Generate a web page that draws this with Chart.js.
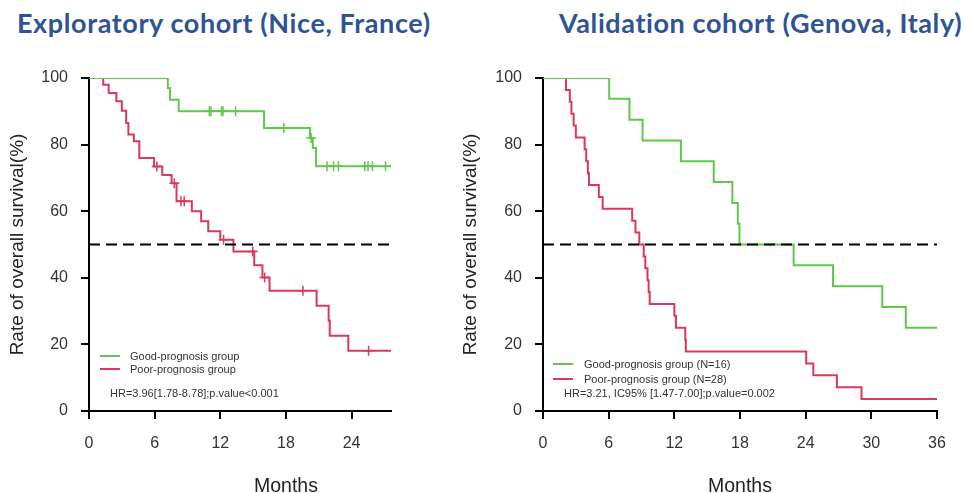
<!DOCTYPE html>
<html>
<head>
<meta charset="utf-8">
<script src="https://cdn.jsdelivr.net/npm/chart.js@4.4.1/dist/chart.umd.min.js"></script>
<style>
  body { margin: 0; width: 966px; height: 493px; background: #fff; position: relative; overflow: hidden;
         font-family: Arial, "Liberation Sans", sans-serif; }
  .title { position: absolute; top: 9px; font-family: Lato, sans-serif; font-weight: 700; font-size: 27px;
           line-height: 27px; letter-spacing: 0.6px; color: #2F5496; white-space: nowrap; }
  canvas { position: absolute; top: 0; }
  .key { position: absolute; height: 2px; width: 20px; }
  .note { position: absolute; font-size: 11px; line-height: 12px; color: #333; white-space: nowrap; }
  .xtitle { position: absolute; top: 474px; font-size: 19.5px; line-height: 22px; color: #222;
            transform: translateX(-50%); }
</style>
</head>
<body>
<div class="title" style="left:17px">Exploratory cohort (Nice, France)</div>
<div class="title" style="left:559px">Validation cohort (Genova, Italy)</div>

<canvas id="exploreChart" width="450" height="493" style="left:0"></canvas>
<canvas id="validChart" width="516" height="493" style="left:450px"></canvas>

<!-- legends -->
<div class="key" style="left:100px;top:355px;background:#5FC84A"></div>
<div class="note" style="left:130px;top:350px">Good-prognosis group</div>
<div class="key" style="left:100px;top:368px;background:#DA385C"></div>
<div class="note" style="left:130px;top:363px">Poor-prognosis group</div>
<div class="note" style="left:110px;top:387px">HR=3.96[1.78-8.78];p.value&lt;0.001</div>

<div class="key" style="left:553px;top:363px;background:#5FC84A"></div>
<div class="note" style="left:584px;top:358px">Good-prognosis group (N=16)</div>
<div class="key" style="left:553px;top:378px;background:#DA385C"></div>
<div class="note" style="left:584px;top:373px">Poor-prognosis group (N=28)</div>
<div class="note" style="left:564px;top:387px">HR=3.21, IC95% [1.47-7.00];p.value=0.002</div>

<div class="xtitle" style="left:286px">Months</div>
<div class="xtitle" style="left:740px">Months</div>

<script>
const GREEN = '#5FC84A';
const RED = '#DA385C';

// y axis + median line
const yTicks = [0, 20, 40, 60, 80, 100];
const medianLine = 50;

// Exploratory cohort (Nice)
const exploreXTicks = [0, 6, 12, 18, 24];
const exploreXMax = 27.6;
const exploreGoodT = [0, 7.2, 7.4, 8.2, 16.0, 20.2, 20.45, 20.75, 27.6];
const exploreGoodS = [100, 97, 93.5, 90, 85, 82, 79, 73.5, 73.5];
const exploreGoodCensT = [11.0, 11.15, 12.1, 12.25, 13.4, 17.8, 20.3, 21.75, 22.35, 22.8, 25.2, 25.5, 25.9, 27.1];
const exploreGoodCensS = [90, 90, 90, 90, 90, 85, 82, 73.5, 73.5, 73.5, 73.5, 73.5, 73.5, 73.5];
const explorePoorT = [0, 1.3, 1.8, 2.5, 3.0, 3.4, 3.6, 4.1, 4.6, 5.95, 6.7, 7.55, 8.0, 9.4, 10.25, 10.9, 12.0, 13.2,
                      15.1, 15.85, 16.5, 20.8, 21.9, 22.0, 23.7, 27.6];
const explorePoorS = [100, 98, 95.5, 93, 90.2, 86.5, 83, 81, 76, 73.4, 70.9, 68.4, 63, 60, 57, 54, 51.4, 47.9,
                      43.8, 40.1, 36.1, 31.6, 27.2, 22.6, 18.1, 18.1];
const explorePoorCensT = [6.2, 7.8, 8.4, 8.7, 12.3, 14.97, 16.05, 19.55, 25.55];
const explorePoorCensS = [73.4, 68.4, 63, 63, 51.4, 47.9, 40.1, 36.1, 18.1];

// Validation cohort (Genova)
const validXTicks = [0, 6, 12, 18, 24, 30, 36];
const validXMax = 36;
const validGoodT = [0, 6.05, 7.9, 9.1, 12.6, 15.6, 17.3, 17.8, 17.95, 22.9, 26.5, 31.0, 33.15, 36];
const validGoodS = [100, 93.75, 87.5, 81.25, 75, 68.75, 62.5, 56.25, 50, 43.75, 37.5, 31.25, 25, 25];
const validPoorT = [0, 2.1, 2.45, 2.6, 2.8, 3.0, 3.8, 3.95, 4.1, 4.2, 5.1, 5.45, 8.15, 8.45, 8.8, 9.2, 9.35, 9.55,
                    9.65, 9.75, 12.0, 12.15, 13.0, 13.05, 24.05, 24.7, 26.85, 29.1, 36];
const validPoorS = [100, 96.4, 92.9, 89.3, 85.7, 82.1, 78.6, 75, 71.4, 67.9, 64.3, 60.7, 57.1, 53.6, 50, 46.4, 42.9, 39.3,
                    35.7, 32.1, 28.6, 25, 21.4, 17.9, 14.3, 10.7, 7.1, 3.6, 3.6];

function toPoints(xs, ys) {
    return xs.map((x, i) => ({ x: x, y: ys[i] }));
}

// 生存曲线 (阶梯: 先水平后下降)
function kmLine(xs, ys, color) {
    return {
        data: toPoints(xs, ys),
        borderColor: color,
        borderWidth: 2,
        stepped: 'before',
        pointRadius: 0,
        fill: false
    };
}

// 删失标记 (+)
function censorMarks(xs, ys, color) {
    return {
        data: toPoints(xs, ys),
        showLine: false,
        pointStyle: 'cross',
        pointRadius: 5,
        pointBorderWidth: 1.5,
        borderColor: color,
        backgroundColor: color
    };
}

function makeChart(id, cfg) {
    const datasets = [{
        data: [{ x: 0, y: medianLine }, { x: cfg.xMax, y: medianLine }],
        borderColor: '#000',
        borderWidth: 2,
        borderDash: [11, 6],
        pointRadius: 0
    }];
    cfg.series.forEach(s => datasets.push(s));

    const axisTicks = (values) => (scale) => {
        scale.ticks = values.map(v => ({ value: v }));
    };

    new Chart(document.getElementById(id), {
        type: 'line',
        data: { datasets },
        options: {
            responsive: false,
            animation: false,
            devicePixelRatio: 1,
            layout: { padding: { left: 0, top: 78, right: cfg.rightPad, bottom: 0 } },
            plugins: { legend: { display: false }, tooltip: { enabled: false } },
            scales: {
                x: {
                    type: 'linear',
                    min: 0,
                    max: cfg.xMax,
                    afterBuildTicks: axisTicks(cfg.xTicks),
                    afterFit: (s) => { s.height = 82; },
                    grid: { drawOnChartArea: false, drawTicks: true, tickLength: 8, color: '#000', lineWidth: 2 },
                    border: { color: '#000', width: 2 },
                    ticks: { color: '#333', font: { family: 'Arial', size: 16 }, padding: 15, maxRotation: 0 }
                },
                y: {
                    min: 0,
                    max: 100,
                    afterBuildTicks: axisTicks(yTicks),
                    afterFit: (s) => { s.width = cfg.yWidth; },
                    grid: { drawOnChartArea: false, drawTicks: true, tickLength: 8, color: '#000', lineWidth: 2 },
                    border: { color: '#000', width: 2 },
                    ticks: { color: '#333', font: { family: 'Arial', size: 16 }, padding: 13 },
                    title: {
                        display: true,
                        text: 'Rate of overall survival(%)',
                        color: '#222',
                        font: { family: 'Arial', size: 19 },
                        padding: { top: cfg.titlePad, bottom: 0 }
                    }
                }
            }
        }
    });
}

makeChart('exploreChart', {
    xMax: exploreXMax,
    xTicks: exploreXTicks,
    yWidth: 89,
    rightPad: 59,
    titlePad: 6,
    series: [
        kmLine(exploreGoodT, exploreGoodS, GREEN),
        censorMarks(exploreGoodCensT, exploreGoodCensS, GREEN),
        kmLine(explorePoorT, explorePoorS, RED),
        censorMarks(explorePoorCensT, explorePoorCensS, RED)
    ]
});

makeChart('validChart', {
    xMax: validXMax,
    xTicks: validXTicks,
    yWidth: 93,
    rightPad: 29,
    titlePad: 9,
    series: [
        kmLine(validGoodT, validGoodS, GREEN),
        kmLine(validPoorT, validPoorS, RED)
    ]
});
</script>
</body>
</html>
